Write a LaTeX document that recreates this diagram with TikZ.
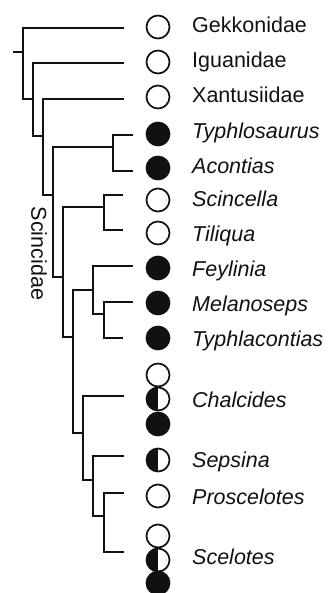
\documentclass[tikz,border=0pt]{standalone}
\usepackage{fontspec}
\setmainfont{Liberation Sans}
\usetikzlibrary{calc}
\definecolor{ink}{HTML}{111111}

\begin{document}
\begin{tikzpicture}[x=1pt,y=-1pt,
    branch/.style={draw=ink,line width=1.9pt},
    trait/.style={circle,draw=ink,line width=1.7pt,minimum size=23pt,inner sep=0pt},
    absent/.style={trait,fill=white},
    present/.style={trait,fill=ink},
    partial/.style={trait,fill=white,
      path picture={\fill[ink] (path picture bounding box.south west)
                    rectangle (path picture bounding box.north);}},
    taxon/.style={anchor=base west,inner sep=0pt,text=ink,
                  font=\fontsize{21.5}{24}\selectfont}]
  \useasboundingbox (0,0) rectangle (329,593);

  % internal nodes, where the branch from the parent comes in
  \foreach \n/\x/\y in {root/23/52, n1/33/99, n2/43/136, scinc/53/195,
      tyac/113/147, n3/63/277, scti/104/207, n4/73/337, feme/93/290,
      mety/104/314, n5/83/433, n6/93/480, prsc/104/516}
    \coordinate (\n) at (\x,\y);
  % tips
  \foreach \n/\x/\y in {gekk/124/28, igua/124/63, xant/124/99, typh/133/135,
      acnt/133/171, scin/123/195, tili/123/230, feyl/133/266, mela/133/302,
      tycn/123/338, chal/124/396, seps/124/456, pros/124/493, scel/124/552}
    \coordinate (t-\n) at (\x,\y);
  \coordinate (stem) at (13,52);

  \draw[branch] (stem) -- (root);
  \foreach \p/\c in {root/t-gekk, root/n1, n1/t-igua, n1/n2, n2/t-xant,
      n2/scinc, scinc/tyac, scinc/n3, tyac/t-typh, tyac/t-acnt, n3/scti,
      n3/n4, scti/t-scin, scti/t-tili, n4/feme, n4/n5, feme/t-feyl,
      feme/mety, mety/t-mela, mety/t-tycn, n5/t-chal, n5/n6, n6/t-seps,
      n6/prsc, prsc/t-pros, prsc/t-scel}
    \draw[branch] (\p) |- (\c);

  % character states
  \foreach \n/\y/\s in {gekk/27/absent, igua/62/absent, xant/97/absent,
      typh/134/present, acnt/168/present, scin/200/absent, tili/233/absent,
      feyl/268/present, mela/303/present, tycn/338/present,
      chal1/375/absent, chal2/399/partial, chal3/424/present,
      seps/460/partial, pros/496/absent,
      scel1/536/absent, scel2/560/partial, scel3/583/present}
    \node[\s] (c-\n) at (158,\y) {};

  % taxon names
  \foreach \n/\y/\txt in {gekk/33/Gekkonidae, igua/68/Iguanidae,
      xant/103/Xantusiidae, typh/139/\textit{Typhlosaurus},
      acnt/174/\textit{Acontias}, scin/207/\textit{Scincella},
      tili/241/\textit{Tiliqua}, feyl/276/\textit{Feylinia},
      mela/311/\textit{Melanoseps}, tycn/346/\textit{Typhlacontias},
      chal/407/\textit{Chalcides}, seps/467/\textit{Sepsina},
      pros/504/\textit{Proscelotes}, scel/564/\textit{Scelotes}}
    \node[taxon] (l-\n) at (192,\y) {\txt};

  \node[rotate=-90,text=ink,font=\fontsize{21.5}{24}\selectfont] (clade)
       at (39,253.5) {Scincidae};
\end{tikzpicture}
\end{document}
